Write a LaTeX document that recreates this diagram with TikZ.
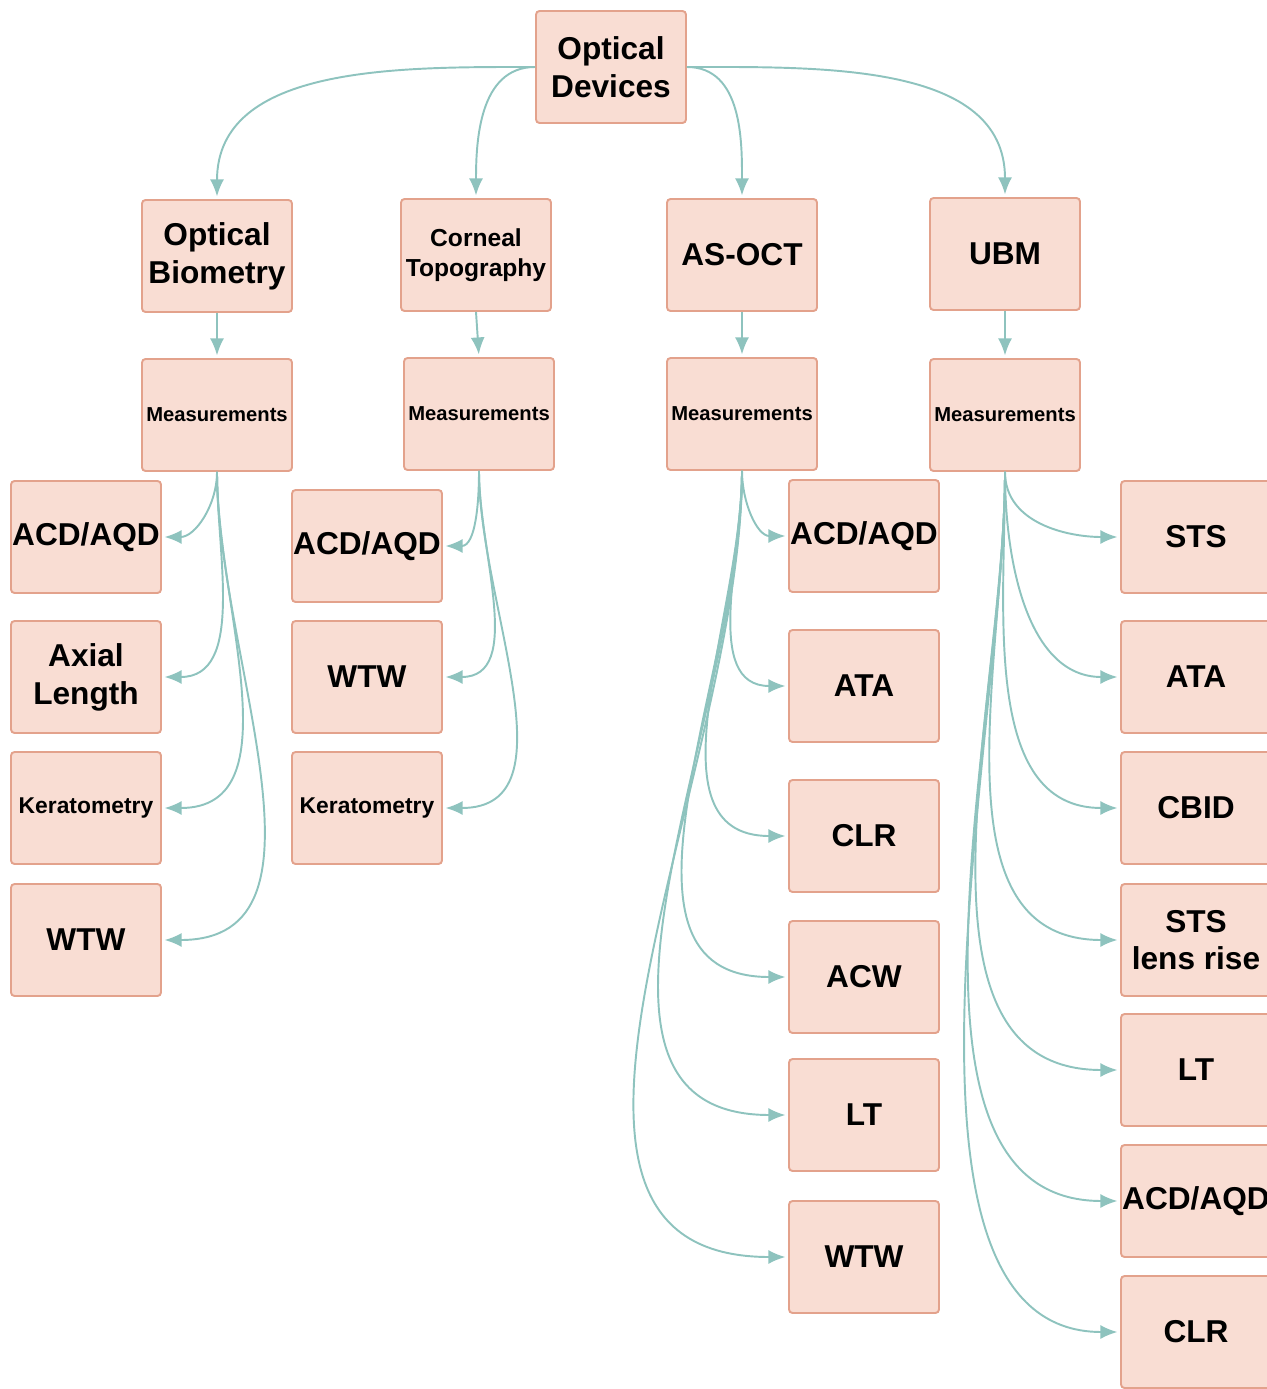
\documentclass[tikz,border=0pt]{standalone}
\usepackage{fontspec}
\setmainfont{Liberation Sans}
\usetikzlibrary{arrows.meta}

\definecolor{boxfill}{HTML}{F9DDD3}
\definecolor{boxline}{HTML}{E3A28C}
\definecolor{linkcol}{HTML}{8EC3BE}

\tikzstyle{devbox} = [rectangle, draw=boxline, fill=boxfill, line width=1.1pt,
    rounded corners=2pt, minimum width=3cm, minimum height=2.24cm,
    inner xsep=0pt, align=center, font=\bfseries]
\tikzstyle{big} = [font=\bfseries\fontsize{18}{21.5}\selectfont]
\tikzstyle{mid} = [font=\bfseries\fontsize{14}{17}\selectfont]
\tikzstyle{small} = [font=\bfseries\fontsize{11.5}{14}\selectfont]
\tikzstyle{kerato} = [font=\bfseries\fontsize{13}{15}\selectfont]
\tikzstyle{line} = [draw=linkcol, -{Latex[length=3.4mm,width=2.8mm]},
    line width=1.1pt, shorten >=1.5pt]

\begin{document}
\begin{tikzpicture}[x=0.02cm, y=-0.02cm]
    \useasboundingbox (0,0) rectangle (1267,1389);

    % top
    \node[devbox, big](OpticalDevices) at (611,67) {Optical\\Devices};

    \node[devbox, big](OpticalBiometry) at (217,256) {Optical\\Biometry};
    \node[devbox, mid](CornealTopo) at (476,255) {Corneal\\Topography};
    \node[devbox, big](ASOCT) at (742,255) {AS-OCT};
    \node[devbox, big](UBM) at (1005,254) {UBM};

    \node[devbox, small](MeasOB) at (217,415) {Measurements};
    \node[devbox, small](MeasCT) at (479,414) {Measurements};
    \node[devbox, small](MeasAS) at (742,414) {Measurements};
    \node[devbox, small](MeasUBM) at (1005,415) {Measurements};

    % optical biometry
    \node[devbox, big](OBACD) at (86,537) {ACD/AQD};
    \node[devbox, big](OBAxial) at (86,677) {Axial\\Length};
    \node[devbox, kerato](OBKerato) at (86,808) {Keratometry};
    \node[devbox, big](OBWTW) at (86,940) {WTW};

    % corneal topography
    \node[devbox, big](CTACD) at (367,546) {ACD/AQD};
    \node[devbox, big](CTWTW) at (367,677) {WTW};
    \node[devbox, kerato](CTKerato) at (367,808) {Keratometry};

    % as-oct
    \node[devbox, big](ASACD) at (864,536) {ACD/AQD};
    \node[devbox, big](ASATA) at (864,686) {ATA};
    \node[devbox, big](ASCLR) at (864,836) {CLR};
    \node[devbox, big](ASACW) at (864,977) {ACW};
    \node[devbox, big](ASLT) at (864,1115) {LT};
    \node[devbox, big](ASWTW) at (864,1257) {WTW};

    % ubm
    \node[devbox, big](UBMSTS) at (1196,537) {STS};
    \node[devbox, big](UBMATA) at (1196,677) {ATA};
    \node[devbox, big](UBMCBID) at (1196,808) {CBID};
    \node[devbox, big](UBMLens) at (1196,940) {STS\\lens rise};
    \node[devbox, big](UBMLT) at (1196,1070) {LT};
    \node[devbox, big](UBMACD) at (1196,1201) {ACD/AQD};
    \node[devbox, big](UBMCLR) at (1196,1332) {CLR};

    \path[line](OpticalDevices.west) to[out=180, in=90] (OpticalBiometry.north);
    \path[line](OpticalDevices.west) to[out=180, in=90] (CornealTopo.north);
    \path[line](OpticalDevices.east) to[out=0, in=90] (ASOCT.north);
    \path[line](OpticalDevices.east) to[out=0, in=90] (UBM.north);

    \path[line](OpticalBiometry) -- (MeasOB);
    \path[line](CornealTopo.south) -- (MeasCT.north);
    \path[line](ASOCT) -- (MeasAS);
    \path[line](UBM) -- (MeasUBM);

    \path[line](MeasOB.south) to[out=-90, in=0] (OBACD.east);
    \path[line](MeasOB.south) to[out=-90, in=0] (OBAxial.east);
    \path[line](MeasOB.south) to[out=-90, in=0] (OBKerato.east);
    \path[line](MeasOB.south) to[out=-90, in=0] (OBWTW.east);

    \path[line](MeasCT.south) to[out=-90, in=0] (CTACD.east);
    \path[line](MeasCT.south) to[out=-90, in=0] (CTWTW.east);
    \path[line](MeasCT.south) to[out=-90, in=0] (CTKerato.east);

    \path[line](MeasAS.south) to[out=-90, in=180] (ASACD.west);
    \path[line](MeasAS.south) to[out=-90, in=180] (ASATA.west);
    \path[line](MeasAS.south) to[out=-90, in=180] (ASCLR.west);
    \path[line](MeasAS.south) to[out=-90, in=180] (ASACW.west);
    \path[line](MeasAS.south) to[out=-90, in=180] (ASLT.west);
    \path[line](MeasAS.south) to[out=-90, in=180] (ASWTW.west);

    \path[line](MeasUBM.south) to[out=-90, in=180] (UBMSTS.west);
    \path[line](MeasUBM.south) to[out=-90, in=180] (UBMATA.west);
    \path[line](MeasUBM.south) to[out=-90, in=180] (UBMCBID.west);
    \path[line](MeasUBM.south) to[out=-90, in=180] (UBMLens.west);
    \path[line](MeasUBM.south) to[out=-90, in=180, looseness=0.95] (UBMLT.west);
    \path[line](MeasUBM.south) to[out=-90, in=180, looseness=0.85] (UBMACD.west);
    \path[line](MeasUBM.south) to[out=-90, in=180, looseness=0.75] (UBMCLR.west);
\end{tikzpicture}
\end{document}
